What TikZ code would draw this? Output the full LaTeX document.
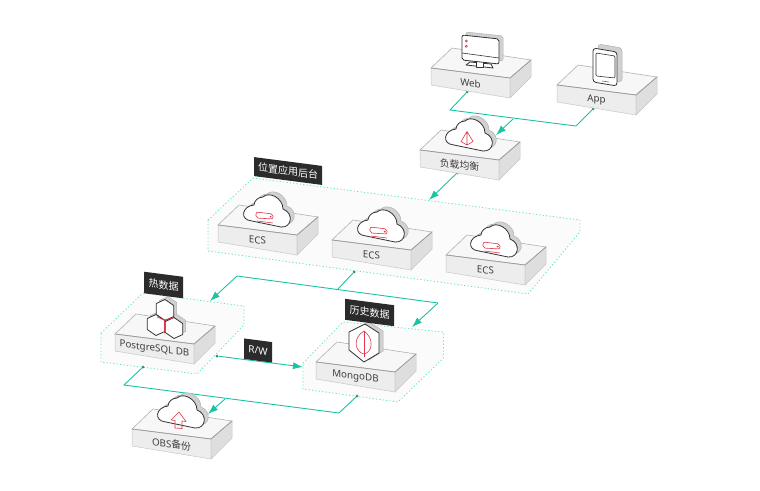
\documentclass[tikz,border=0pt]{standalone}
\usepackage{fontspec}
\setmainfont{Noto Sans}
\newfontfamily\cjk{Noto Sans CJK SC}
\usetikzlibrary{arrows.meta}
\definecolor{teal1}{HTML}{1CC3A3}
\definecolor{teal2}{HTML}{5FE3CA}
\definecolor{portgreen}{HTML}{2E8B7A}
\definecolor{tagblack}{HTML}{2B2B2B}
\definecolor{iconred}{HTML}{E0354B}
\tikzset{
        x=1pt, y=-1pt,
        region/.style={draw=teal2, line width=0.8pt, dash pattern=on 1.2pt off 2.2pt, fill=black!1.5},
        link/.style={draw=teal1, line width=0.9pt},
        linkarrow/.style={link, -{Latex[length=10pt,width=7pt]}},
        portdot/.style={circle, fill=portgreen, inner sep=0pt, minimum size=3pt},
        tag/.style={fill=tagblack, text=white, font=\fontsize{10}{10}\selectfont, inner sep=0pt, yslant=-0.13},
        boxlabel/.style={text=black!75, font=\fontsize{9.8}{10}\selectfont, inner sep=0pt, yslant=-0.13},
        backing/.style={draw=black!30, fill=black!18, line width=0.5pt},
        outline/.style={draw=black!80, fill=white, line width=0.8pt, line join=round},
        redline/.style={draw=iconred, line width=0.6pt, line join=round},
        platform/.pic={
          \draw[draw=black!30, fill=black!3, line width=0.6pt] (0,0) -- (21,-20) -- (100,-8) -- (79,10) -- cycle;
          \draw[draw=black!22, fill=black!7, line width=0.5pt] (0,0) -- (79,10) -- (79,30) -- (0,17) -- cycle;
          \draw[draw=black!22, fill=black!13, line width=0.5pt] (79,10) -- (100,-8) -- (100,9) -- (79,30) -- cycle;
          \draw[draw=black!40, line width=0.7pt] (0,0) -- (79,10) -- (100,-8);
          \node[boxlabel] (-label) at (39.5,15) {#1};
        },
        cloudpath/.pic={
          \path[pic actions] (-14,9) -- (15,15) .. controls (26,16) and (28,1) .. (17,-3)
            .. controls (17,-14) and (3,-21) .. (-3,-15) .. controls (-8,-15) and (-12,-11) .. (-12,-7)
            .. controls (-24,-6) and (-27,8) .. (-14,9) -- cycle;
        },
        cloud/.pic={
          \pic[backing] at (4,-3) {cloudpath};
          \pic[outline] {cloudpath};
        },
        hexcell/.pic={
          \path[pic actions] (0,-10.5) -- (8.7,-4.5) -- (8.7,6.5) -- (0,10.5) -- (-8.7,4.5) -- (-8.7,-6.5) -- cycle;
        }
}

\begin{document}
\begin{tikzpicture}
        \useasboundingbox (0,0) rectangle (760,490);
        % dashed groups
        \draw[region] (208,220) -- (253,178) -- (580,220) -- (580,232) -- (528,294) -- (208,251) -- cycle;
        \draw[region] (101,333) -- (143,293) -- (244,306) -- (244,325) -- (197,374) -- (101,362) -- cycle;
        \draw[region] (303,363) -- (343,322) -- (443.5,332) -- (443.5,358) -- (398,402) -- (303,389) -- cycle;

        % ports and free corners
        \node[portdot] (webout) at (467,92) {};
        \node[portdot] (appout) at (593,109) {};
        \node[portdot] (lbout) at (457,173) {};
        \node[portdot] (ecsout) at (354,272) {};
        \node[portdot] (pgout) at (143,367) {};
        \node[portdot] (pgrw) at (217,356) {};
        \node[portdot] (mongoout) at (357,396) {};
        \coordinate (webcorner) at (450,110);
        \coordinate (appcorner) at (576,126);
        \coordinate (webjoin) at (513,119);
        \coordinate (lbin) at (496,135);
        \coordinate (ecsin) at (429,200);
        \coordinate (ecsleft) at (237,276);
        \coordinate (ecsright) at (438,303);
        \coordinate (ecsjoin) at (338,289);
        \coordinate (pgin) at (210,301);
        \coordinate (mongoin) at (412,327);
        \coordinate (mongorw) at (303,367);
        \coordinate (pgcorner) at (124,385);
        \coordinate (mongocorner) at (339,413);
        \coordinate (obsjoin) at (225,399);
        \coordinate (obsin) at (208,414);

        % connectors
        \draw[link] (webout) -- (webcorner) -- (appcorner) -- (appout);
        \draw[linkarrow] (webjoin) -- (lbin);
        \draw[linkarrow] (lbout) -- (ecsin);
        \draw[link] (ecsout) -- (ecsjoin);
        \draw[linkarrow] (ecsleft) -- (pgin);
        \draw[linkarrow] (ecsright) -- (mongoin);
        \draw[link] (ecsleft) -- (ecsright);
        \draw[linkarrow] (pgrw) -- (mongorw);
        \draw[link] (pgout) -- (pgcorner) -- (mongocorner) -- (mongoout);
        \draw[linkarrow] (obsjoin) -- (obsin);

        % platforms
        \pic (web) at (431,68) {platform=Web};
        \pic (app) at (557,85) {platform=App};
        \pic (lb) at (420,150) {platform={\cjk 负载均衡}};
        \pic (ecsa) at (218,225) {platform=ECS};
        \pic (ecsb) at (332,240) {platform=ECS};
        \pic (ecsc) at (446,255) {platform=ECS};
        \pic (pg) at (115,334) {platform={PostgreSQL DB}};
        \pic (mongo) at (316,362) {platform=MongoDB};
        \pic (obs) at (132,429) {platform={OBS{\cjk 备份}}};

        % monitor
        \draw[backing, rounded corners=2pt] (466,32) -- (503,36) -- (503,61) -- (466,57) -- cycle;
        \draw[outline] (470,62) -- (491,64) -- (493,68) -- (466,65) -- cycle;
        \draw[outline] (476,60) rectangle (483,67);
        \draw[outline, rounded corners=2pt] (462,35) -- (499,39) -- (499,64) -- (462,60) -- cycle;
        \draw[draw=black!80, line width=0.6pt] (462,53) -- (499,58);
        \draw[redline] (466.3,41) circle (1.1) (466.3,46.3) circle (1.1);

        % tablet
        \draw[backing, rounded corners=3pt] (598,44) -- (622,48) -- (622,82) -- (598,78) -- cycle;
        \draw[outline, rounded corners=3pt] (593,48) -- (617,52) -- (617,86) -- (593,82) -- cycle;
        \draw[draw=black!80, line width=0.6pt, rounded corners=1pt] (596,53) -- (615,56) -- (615,78) -- (596,76) -- cycle;
        \draw[redline] (602,81) -- (609,82);

        % clouds and their marks
        \pic at (468,136) {cloud};
        \draw[redline] (467,131.5) -- (461,141.5) -- (467,145) -- (473,141.5) -- cycle (467,131.5) -- (467,145);
        \foreach \cx/\cy in {266/212, 380/227, 493/242} {
          \pic at (\cx,\cy) {cloud};
          \draw[redline, rounded corners=2pt] (\cx-10,\cy) -- (\cx+7,\cy+2) -- (\cx+7,\cy+7) -- (\cx-10,\cy+6) -- cycle;
          \draw[redline] (\cx-9,\cy+9) -- (\cx+7,\cy+11);
          \fill[iconred] (\cx+4.7,\cy+4.7) circle (1);
        }
        \pic at (180,413) {cloud};
        \draw[redline] (179,412) -- (186,421.5) -- (182,421) -- (182,428.5) -- (175,428) -- (175,420.5) -- (171,420) -- cycle;

        % hexagons
        \foreach \hx/\hy in {168/307, 159/322, 177/325} {
          \pic[backing] at (\hx,\hy) {hexcell};
        }
        \foreach \hx/\hy in {165/310, 156/325, 174/328} {
          \pic[outline] at (\hx,\hy) {hexcell};
        }
        \draw[draw=iconred, line width=0.7pt] (157,317) -- (164.5,320) -- (173,318) (164.5,320) -- (164.5,333);

        % leaf
        \draw[backing] (369,322) -- (383,331) -- (383,351) -- (369,360) -- (353,348) -- (353,330) -- cycle;
        \draw[outline] (365,324) -- (379,333) -- (379,353) -- (364,362) -- (349,350) -- (349,332) -- cycle;
        \draw[redline] (364,331) .. controls (352,338) and (355,352) .. (364,354) .. controls (373,352) and (374,338) .. (364,331) -- cycle;
        \draw[redline] (364,331) -- (364,357);

        % tags
        \node[tag, minimum width=68pt, minimum height=19pt] (backendtag) at (288,171) {\cjk 位置应用后台};
        \node[tag, minimum width=39pt, minimum height=21.5pt] (hottag) at (163.5,285) {\cjk 热数据};
        \node[tag, minimum width=28pt, minimum height=20.5pt] (rwtag) at (258,350.5) {R/W};
        \node[tag, minimum width=49pt, minimum height=21pt] (historytag) at (369.5,312.5) {\cjk 历史数据};
\end{tikzpicture}
\end{document}
